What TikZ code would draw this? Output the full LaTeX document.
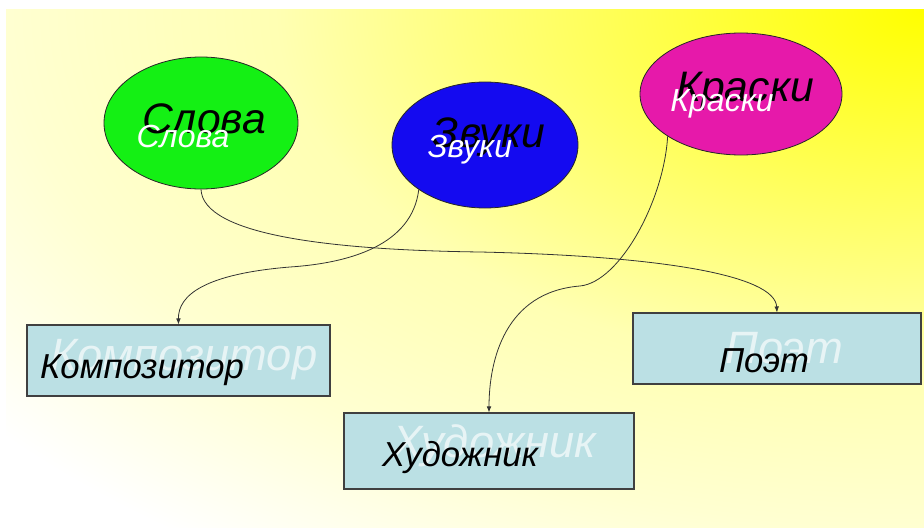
\documentclass[tikz,border=0pt]{standalone}
\usepackage{fontspec}
\setmainfont{Liberation Sans}
\usetikzlibrary{shapes.geometric,arrows.meta}
\definecolor{ovalGreen}{RGB}{20,240,20}
\definecolor{ovalBlue}{RGB}{20,10,240}
\definecolor{ovalPink}{RGB}{230,25,170}
\definecolor{boxBlue}{RGB}{187,224,228}
\pgfdeclareradialshading{cornerGlow}{\pgfpoint{0bp}{0bp}}{color(0bp)=(yellow); color(5bp)=(yellow!72); color(9bp)=(yellow!50); color(12.5bp)=(yellow!30); color(17.7bp)=(yellow!18); color(23bp)=(white); color(50bp)=(white)}
\tikzstyle{ovalStyle}=[shape = ellipse, draw = black!85, line width = 0.6pt, inner sep = 0pt]
\tikzstyle{boxStyle}=[shape = rectangle, draw = black!75, line width = 0.8pt, fill = boxBlue, inner sep = 0pt]
\tikzstyle{linkStyle}=[draw = black!80, line width = 0.6pt, -{Latex[length=4.5pt, width=3.5pt]}]

\begin{document}
\begin{tikzpicture}[x = 0.75pt, y = -0.75pt]
\tikzstyle{frontOval}=[text = white, font = \fontsize{24}{28}\selectfont\itshape, anchor = base, inner sep = 0pt]
\tikzstyle{backOval}=[text = black, font = \fontsize{32}{36}\selectfont\itshape, anchor = base, inner sep = 0pt]
\tikzstyle{frontBox}=[text = black, font = \fontsize{26}{30}\selectfont\itshape, anchor = base, inner sep = 0pt]
\tikzstyle{backBox}=[text = white, text opacity = 0.65, font = \fontsize{34}{40}\selectfont\itshape, anchor = base, inner sep = 0pt]
\useasboundingbox (0,0) rectangle (924,528);
\begin{scope}
\clip (6,10) rectangle (924,528);
\shade[shading = cornerGlow] (924,10) ellipse [x radius = 1294, y radius = 730];
\end{scope}
\node[ovalStyle, fill = ovalGreen, minimum width = 145.5pt, minimum height = 99pt] (slova) at (201,123) {};
\node[ovalStyle, fill = ovalBlue, minimum width = 139.5pt, minimum height = 94.5pt] (zvuki) at (485,145) {};
\node[ovalStyle, fill = ovalPink, minimum width = 151.5pt, minimum height = 91.5pt] (kraski) at (741,94) {};
\node[boxStyle, minimum width = 227.25pt, minimum height = 53.25pt] (komp) at (178.5,360.5) {};
\node[boxStyle, minimum width = 217.5pt, minimum height = 57pt] (hud) at (489,451) {};
\node[boxStyle, minimum width = 216pt, minimum height = 53.25pt] (poet) at (777,348.5) {};
\node[backOval] (slovaBack) at (204,133) {Слова};
\node[frontOval] (slovaText) at (183,147) {Слова};
\node[backOval] (zvukiBack) at (489,147) {Звуки};
\node[frontOval] (zvukiText) at (470,157) {Звуки};
\node[backOval] (kraskiBack) at (745,102) {Краски};
\node[frontOval] (kraskiText) at (722,112) {Краски};
\node[backBox] (kompBack) at (184,370) {Композитор};
\node[frontBox] (kompText) at (142,378) {Композитор};
\node[backBox] (hudBack) at (494,457) {Художник};
\node[frontBox] (hudText) at (460,466) {Художник};
\node[backBox] (poetBack) at (784,363) {Поэт};
\node[frontBox] (poetText) at (764,372) {Поэт};
\draw[linkStyle] (slova.south) .. controls (203,235) and (330,250) .. (480,252) .. controls (660,256) and (775,275) .. (poet.north);
\draw[linkStyle] (zvuki.214) .. controls (412,245) and (350,263) .. (290,267) .. controls (205,274) and (178,295) .. (komp.north);
\draw[linkStyle] (kraski.210) .. controls (664,200) and (620,282) .. (580,286) .. controls (505,292) and (489,360) .. (hud.north);
\end{tikzpicture}
\end{document}
